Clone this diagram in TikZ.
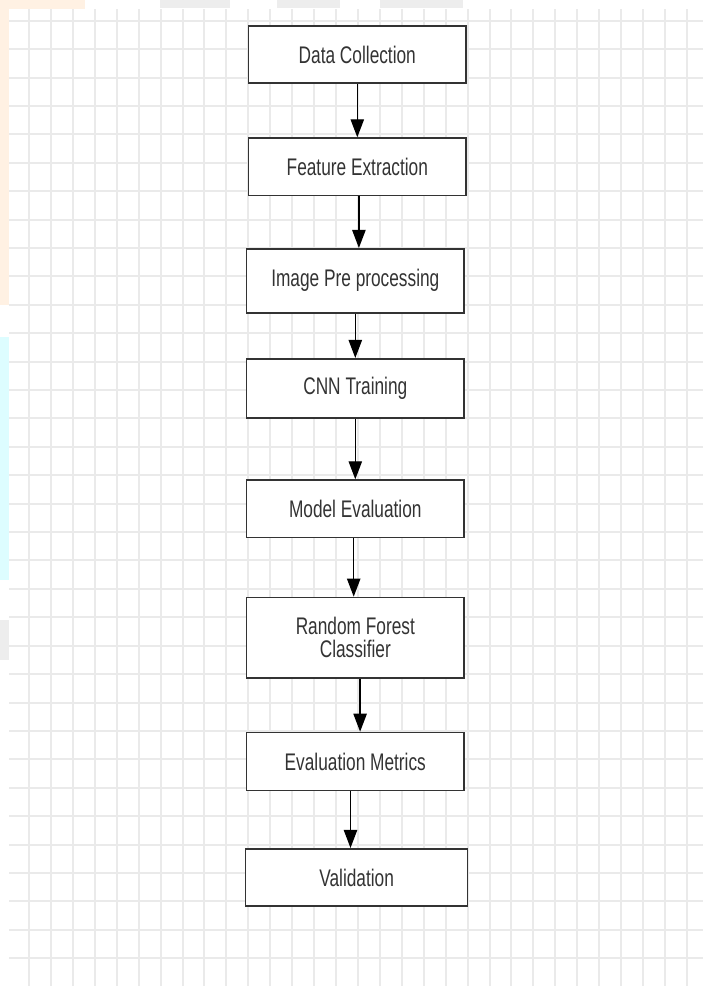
\documentclass[tikz,border=0pt]{standalone}
\usepackage{fontspec}
\usepackage{xcolor}
\usepackage{tikz}
\usetikzlibrary{arrows.meta,positioning}
\newfontfamily\flowfont[FakeStretch=0.72]{Liberation Sans}
\definecolor{inkgray}{HTML}{333333}
\definecolor{gridgray}{HTML}{EAEAEA}
\definecolor{markorange}{HTML}{FFF1E3}
\definecolor{markcyan}{HTML}{DDFDFF}
\definecolor{markgray}{HTML}{EDEDED}
\tikzset{
  stepbox/.style={
    rectangle,
    draw=inkgray,
    fill=white,
    line width=1.2pt,
    align=center,
    text=inkgray,
    minimum width=163pt,
    minimum height=43pt,
    inner sep=2pt,
    font=\flowfont\fontsize{18}{17}\selectfont
  },
  gridline/.style={draw=gridgray, line width=1.5pt},
  flow/.style={-{Triangle[length=13.5pt,width=10pt]}, line width=1pt, draw=black}
}
\begin{document}
\begin{tikzpicture}[x=0.75pt,y=0.75pt]
  \useasboundingbox (0,0) rectangle (703,-986);
  \fill[white] (0,0) rectangle (703,-986);
  % faint watermark bits in the margins
  \fill[markorange] (0,0) rectangle (9,-305);
  \fill[markorange] (0,0) rectangle (85,-9);
  \fill[markcyan] (0,-337) rectangle (9,-580);
  \fill[markgray] (0,-620) rectangle (9,-660);
  \fill[markgray] (160,0) rectangle (230,-8);
  \fill[markgray] (277,0) rectangle (340,-8);
  \fill[markgray] (380,0) rectangle (463,-8);
  % grid
  \foreach \i in {0,...,30}
    \draw[gridline] ({29+21.93*\i},-9) -- ({29+21.93*\i},-986);
  \foreach \j in {0,...,33}
    \draw[gridline] (9,{-20.7-28.41*\j}) -- (703,{-20.7-28.41*\j});

  \node[stepbox] (collect) at (357.3,-54.5) {Data Collection};
  \node[stepbox, below=40pt of collect] (extract) {Feature Extraction};
  \node[stepbox, below=38.8pt of extract, minimum height=48pt, xshift=-1.5pt] (preproc) {Image Pre processing};
  \node[stepbox, below=33.3pt of preproc, minimum height=44.3pt] (cnn) {CNN Training};
  \node[stepbox, below=45.5pt of cnn] (evalmodel) {Model Evaluation};
  \node[stepbox, below=43.8pt of evalmodel, minimum height=60.3pt] (forest) {Random Forest\\Classifier};
  \node[stepbox, below=39.8pt of forest, minimum height=43.5pt] (metrics) {Evaluation Metrics};
  \node[stepbox, below=42.5pt of metrics, minimum width=166.5pt, xshift=1pt] (valid) {Validation};

  \draw[flow] (collect) -- (collect |- extract.north);
  \draw[flow] ([xshift=1.2pt]extract.south) -- ([xshift=1.2pt]extract.south |- preproc.north);
  \draw[flow] (preproc) -- (preproc |- cnn.north);
  \draw[flow] (cnn) -- (cnn |- evalmodel.north);
  \draw[flow] ([xshift=-1.2pt]evalmodel.south) -- ([xshift=-1.2pt]evalmodel.south |- forest.north);
  \draw[flow] ([xshift=3.6pt]forest.south) -- ([xshift=3.6pt]forest.south |- metrics.north);
  \draw[flow] ([xshift=-3.6pt]metrics.south) -- ([xshift=-3.6pt]metrics.south |- valid.north);
\end{tikzpicture}
\end{document}
